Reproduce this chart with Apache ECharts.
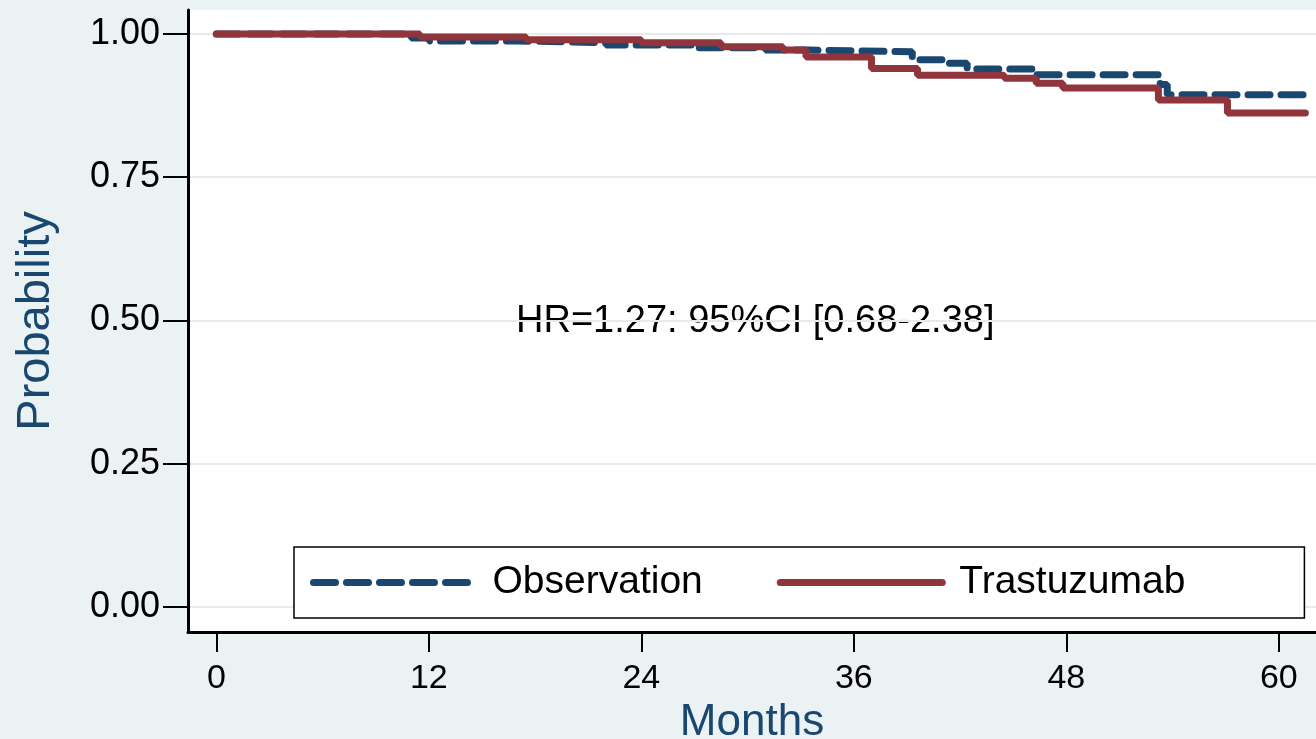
<!DOCTYPE html>
<html>
<head>
<meta charset="utf-8">
<script src="https://cdn.jsdelivr.net/npm/echarts@6/dist/echarts.min.js"></script>
<style>
html,body{margin:0;padding:0;background:#eaf2f3;}
#chart{width:1316px;height:739px;}
</style>
</head>
<body>
<div id="chart"></div>
<script>
const seriesNames = ['Observation', 'Trastuzumab'];
const obsMonths = [0, 11.0, 12.0, 17, 22, 27, 31, 33.5, 39.3, 41.0, 42.4, 46.1, 53.3, 53.7, 61.5];
const obsSurv   = [1.000, 0.993, 0.988, 0.985, 0.981, 0.976, 0.972, 0.969, 0.955, 0.949, 0.939, 0.929, 0.912, 0.894, 0.894];
const trasMonths = [0, 11.5, 17.5, 24, 28.5, 32, 33.3, 37, 39.6, 44.5, 46.3, 47.8, 53.2, 57.1, 61.5];
const trasSurv   = [1.000, 0.995, 0.990, 0.985, 0.978, 0.972, 0.960, 0.940, 0.928, 0.923, 0.914, 0.906, 0.885, 0.862, 0.862];
const xTicks = [0, 12, 24, 36, 48, 60];
const yTicks = [0, 0.25, 0.5, 0.75, 1.0];
const annotation = 'HR=1.27: 95%CI [0.68-2.38]';
const xTitle = 'Months';
const yTitle = 'Probability';

const pairs = (xs, ys) => xs.map((x, i) => [x, ys[i]]);
const FONT = '"Liberation Sans", Arial, sans-serif';
const BLUE = '#1a476f', RED = '#90353b';
const DASH = [22, 11];

const chart = echarts.init(document.getElementById('chart'), null, {renderer: 'canvas'});
chart.setOption({
  animation: false,
  backgroundColor: '#eaf2f3',
  textStyle: {fontFamily: FONT},
  grid: {left: 188, top: 10, right: 0, bottom: 107, show: true, backgroundColor: '#ffffff', borderWidth: 0,
         containLabel: false, outerBoundsMode: 'none'},
  xAxis: {
    type: 'value', min: -1.6, max: 62.1,
    name: xTitle, nameLocation: 'middle', nameGap: 66,
    nameTextStyle: {color: BLUE, fontSize: 44, fontFamily: FONT},
    axisLine: {show: true, onZero: false, lineStyle: {color: '#000', width: 3}},
    axisTick: {show: true, length: 20, customValues: xTicks, lineStyle: {color: '#000', width: 2}},
    axisLabel: {customValues: xTicks, color: '#000', fontSize: 34, margin: 30, fontFamily: FONT},
    splitLine: {show: false}
  },
  yAxis: {
    type: 'value', min: -0.044, max: 1.042,
    name: yTitle, nameLocation: 'middle', nameGap: 128, nameRotate: 90,
    nameTextStyle: {color: BLUE, fontSize: 47, fontFamily: FONT},
    axisLine: {show: true, onZero: false, lineStyle: {color: '#000', width: 3}},
    axisTick: {show: true, length: 25, customValues: yTicks, lineStyle: {color: '#000', width: 2}},
    axisLabel: {customValues: yTicks, color: '#000', fontSize: 36, margin: 28, fontFamily: FONT,
      formatter: v => v.toFixed(2)},
    splitLine: {show: true, lineStyle: {color: '#e6eaea', width: 2}}
  },
  legend: {
    data: [
      {name: seriesNames[0], lineStyle: {color: BLUE, width: 7, type: DASH, cap: 'round'}},
      {name: seriesNames[1], lineStyle: {color: RED, width: 7, type: 'solid', cap: 'round'}}
    ],
    orient: 'horizontal',
    left: 294, top: 547, width: 960,
    padding: [16, 119, 16, 16],
    itemGap: 74,
    itemWidth: 162, itemHeight: 14,
    itemStyle: {opacity: 0},
    backgroundColor: '#ffffff', borderColor: '#000', borderWidth: 1.5,
    textStyle: {color: '#000', fontSize: 39, fontFamily: FONT, padding: [0, 0, 0, 12]}
  },
  graphic: [{
    type: 'text', left: 516, top: 303,
    style: {text: annotation, fill: '#000', font: '38px "Liberation Sans", Arial, sans-serif'}
  }],
  series: [
    {
      name: seriesNames[0], type: 'line', step: 'end', symbol: 'none',
      data: pairs(obsMonths, obsSurv),
      lineStyle: {color: BLUE, width: 7, type: DASH, cap: 'round'},
      itemStyle: {color: BLUE}
    },
    {
      name: seriesNames[1], type: 'line', step: 'end', symbol: 'none',
      data: pairs(trasMonths, trasSurv),
      lineStyle: {color: RED, width: 7, type: 'solid', cap: 'round'},
      itemStyle: {color: RED}
    }
  ]
});
</script>
</body>
</html>
